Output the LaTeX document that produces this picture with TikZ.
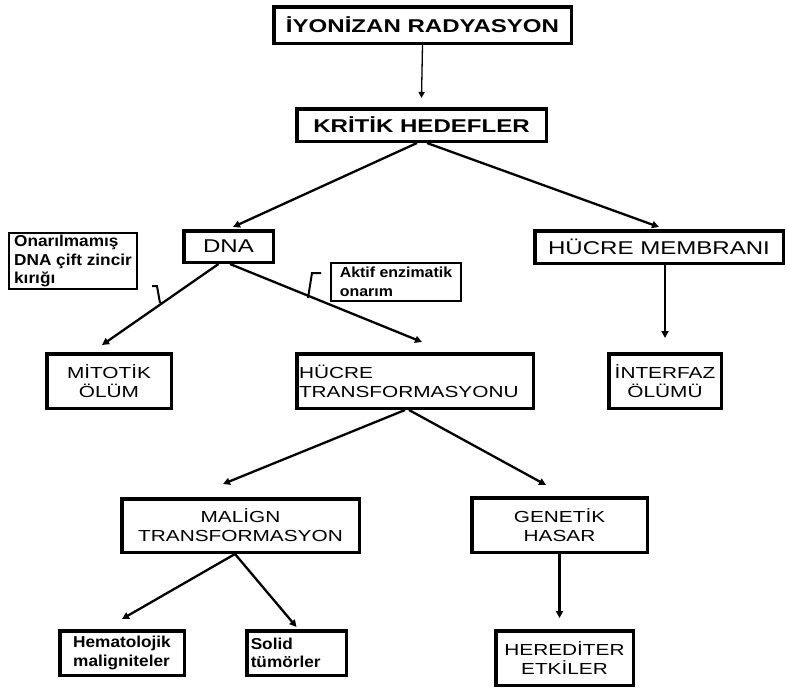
\documentclass[tikz,border=0pt]{standalone}
\usepackage{fontspec}
\setmainfont{Liberation Sans}[FakeStretch=1.3]
\newfontfamily\smallfnt{Liberation Sans}[FakeStretch=1.09]
\usetikzlibrary{arrows.meta,calc}
\begin{document}
\begin{tikzpicture}[x=1pt,y=-1pt,
  bx/.style={draw, line width=3.5pt, inner sep=0pt, align=center},
  cbx/.style={draw, line width=2pt, inner sep=0pt, align=left},
  bigb/.style={font=\bfseries\fontsize{18.5}{22}\selectfont},
  bigr/.style={font=\fontsize{18.5}{22}\selectfont},
  mid/.style={font=\fontsize{16}{19}\selectfont},
  sml/.style={font=\smallfnt\bfseries\fontsize{15.8}{18.5}\selectfont},
  arr/.style={line width=2.3pt, -{Triangle[length=7pt,width=7pt]}},
  thinarr/.style={line width=1.3pt, -{Triangle[length=6pt,width=6pt]}},
  hk/.style={line width=2pt}]
\useasboundingbox (0,0) rectangle (787,689);
\fill[white] (0,0) rectangle (787,689);

% level 0/1
\node[bx,bigb,minimum width=297.5pt,minimum height=36.5pt] (iyon) at (422.5,25) {İYONİZAN RADYASYON};
\node[bx,bigb,minimum width=249.5pt,minimum height=32.5pt] (krit) at (421.5,125) {KRİTİK HEDEFLER};

% level 2
\node[bx,bigr,minimum width=89.5pt,minimum height=31.5pt] (dna) at (228.5,246.5) {DNA};
\node[bx,bigr,minimum width=248.5pt,minimum height=32.5pt] (membr) at (659,247) {HÜCRE MEMBRANI};

% callouts
\node[cbx,sml,minimum width=128pt,minimum height=56pt] (onar) at (73,261) {Onarılmamış\\DNA çift zincir\\kırığı};
\node[cbx,font=\smallfnt\bfseries\fontsize{14.6}{19}\selectfont,minimum width=130pt,minimum height=38pt] (aktif) at (396,282) {Aktif enzimatik\\onarım};

% level 3
\node[bx,mid,minimum width=124.5pt,minimum height=54.5pt] (mitotik) at (109,381) {MİTOTİK\\ÖLÜM};
\node[bx,mid,align=left,minimum width=236.5pt,minimum height=54.5pt,text width=232pt,inner xsep=2pt] (hucretr) at (415,381) {HÜCRE\\TRANSFORMASYONU};
\node[bx,mid,minimum width=112.5pt,minimum height=54.5pt] (interfaz) at (665,381) {İNTERFAZ\\ÖLÜMÜ};

% level 4
\node[bx,mid,minimum width=237.5pt,minimum height=53.5pt] (malign) at (240.5,525.5) {MALİGN\\TRANSFORMASYON};
\node[bx,mid,minimum width=175.5pt,minimum height=54.5pt] (genetik) at (559.5,525) {GENETİK\\HASAR};

% level 5
\node[bx,sml,align=left,minimum width=124.5pt,minimum height=44.5pt] (hemat) at (122,653) {Hematolojik\\maligniteler};
\node[bx,sml,align=left,minimum width=99.5pt,minimum height=44.5pt,text width=91.5pt,inner xsep=3pt] (solid) at (296.5,653) {Solid\\tümörler};
\node[bx,mid,minimum width=137.5pt,minimum height=54.5pt] (hered) at (564.5,658) {HEREDİTER\\ETKİLER};

% connectors
\draw[thinarr] (iyon.south) -- ([yshift=9pt]krit.north);
\draw[arr] ([xshift=-4.5pt]krit.south) -- ([xshift=4.5pt,yshift=2pt]dna.north);
\draw[arr] ([xshift=5.5pt]krit.south) -- ([yshift=2pt]membr.north);
\draw[arr] ([xshift=-10pt]dna.south) -- ([xshift=-7pt,yshift=7pt]mitotik.north);
\draw[arr] ([xshift=1.5pt]dna.south) -- ([xshift=7pt,yshift=10pt]hucretr.north);
\draw[arr] (interfaz.north |- membr.south) -- ([yshift=14pt]interfaz.north);
\draw[arr] ([xshift=-10pt]hucretr.south) -- ([xshift=-17.5pt,yshift=13pt]malign.north);
\draw[arr] ([xshift=-6pt]hucretr.south) -- ([xshift=-13.5pt,yshift=11pt]genetik.north);
\draw[arr] ([xshift=-5.5pt]malign.south) -- ([yshift=10pt]hemat.north);
\draw[arr] ([xshift=-5.5pt]malign.south) -- ([yshift=2pt]solid.north);
\draw[arr] (genetik.south) -- ($(genetik.south |- hered.north)+(0,-11)$);

% callout hooks
\coordinate (hl1) at (152,286);
\coordinate (hl2) at (157,286);
\coordinate (hl3) at (160,303);
\coordinate (hr1) at (321,273);
\coordinate (hr2) at (312,273);
\coordinate (hr3) at (308,298);
\draw[hk] (hl1) -- (hl2) -- (hl3);
\draw[hk] (hr1) -- (hr2) -- (hr3);
\end{tikzpicture}
\end{document}
